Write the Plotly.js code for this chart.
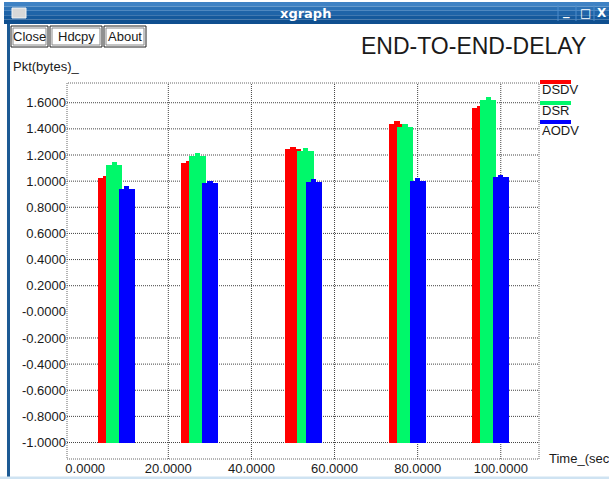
<!DOCTYPE html>
<html>
<head>
<meta charset="utf-8">
<script src="https://cdn.plot.ly/plotly-3.0.1.min.js"></script>
<style>html,body{margin:0;padding:0;background:#fff;}#chart{width:609px;height:479px;}</style>
</head>
<body>
<div id="chart"></div>
<script>
// ---- data ----
const seriesNames = ["DSDV", "DSR", "AODV"];
const dsdvX = [5, 25, 50, 75, 95];
const dsdvY = [1.022, 1.136, 1.243, 1.437, 1.557];
const dsrX = [7, 27, 53, 77, 97];
const dsrY = [1.123, 1.195, 1.233, 1.416, 1.621];
const aodvX = [10, 30, 55, 80, 100];
const aodvY = [0.940, 0.983, 0.996, 1.003, 1.029];
const xTickVals = [0, 20, 40, 60, 80, 100];
const xTickText = ["0.0000", "20.0000", "40.0000", "60.0000", "80.0000", "100.0000"];
const yTickVals = [1.6, 1.4, 1.2, 1.0, 0.8, 0.6, 0.4, 0.2, 0.0, -0.2, -0.4, -0.6, -0.8, -1.0];
const yTickText = ["1.6000", "1.4000", "1.2000", "1.0000", "0.8000", "0.6000", "0.4000", "0.2000",
  "-0.0000", "-0.2000", "-0.4000", "-0.6000", "-0.8000", "-1.0000"];
const chartTitle = "END-TO-END-DELAY";
const yLabel = "Pkt(bytes)_";
const xLabel = "Time_(sec";   // cut off by the window edge in the reference

// ---- styling ----
const BASE = -1.0;
const colors = ["#ff0000", "#00f86a", "#0000ff"];
const FONT = "Liberation Sans, Arial, sans-serif";
const L = 67, R = 539, T = 83, B = 459, W = 609, H = 479;
const PX = x => (x - L) / (R - L);
const PY = y => (B - y) / (B - T);

const sets = [[dsdvX, dsdvY], [dsrX, dsrY], [aodvX, aodvY]];
const traces = [];
sets.forEach(([xs, ys], i) => {
  traces.push({
    type: "bar", name: seriesNames[i], x: xs, y: ys.map(v => v - BASE), base: xs.map(() => BASE),
    width: 3.9, marker: {color: colors[i], line: {width: 0}}, showlegend: false, hoverinfo: "skip"
  });
  // small point marker sitting on top of each bar (xgraph point)
  traces.push({
    type: "bar", name: seriesNames[i] + " pt", x: xs, y: ys.map(() => 0.024), base: ys.map(v => v - 0.004),
    width: 1.3, marker: {color: colors[i], line: {width: 0}}, showlegend: false, hoverinfo: "skip"
  });
});

const shapes = [];
const grid = {color: "#444", width: 1, dash: "1px,1px"};
yTickVals.forEach(v => { if (v !== 0) shapes.push({type: "line", xref: "paper", yref: "y", x0: 0, x1: 1, y0: v, y1: v, line: grid, layer: "below"}); });
xTickVals.forEach(v => { if (v !== 0) shapes.push({type: "line", xref: "x", yref: "paper", x0: v, x1: v, y0: 0, y1: 1, line: grid, layer: "below"}); });
// plot frame
shapes.push({type: "rect", xref: "paper", yref: "paper", x0: 0, x1: 1, y0: 0, y1: 1, line: {color: "#666", width: 1, dash: "1px,1px"}, layer: "below"});

// legend bars
const legY = [82, 103, 122];
legY.forEach((y, i) => shapes.push({type: "line", xref: "paper", yref: "paper", x0: PX(540), x1: PX(571), y0: PY(y), y1: PY(y), line: {color: colors[i], width: 4}}));

// window chrome: title bar
const bands = ["#3f82c4", "#2d72b6", "#1f64a8", "#15599c", "#0f4f8f"];
bands.forEach((c, i) => {
  const y0 = 2 + i * 4.4, y1 = 2 + (i + 1) * 4.4;
  shapes.push({type: "rect", xref: "paper", yref: "paper", x0: PX(4), x1: PX(612), y0: PY(y1), y1: PY(y0), fillcolor: c, line: {width: 0}});
});
shapes.push({type: "rect", xref: "paper", yref: "paper", x0: PX(12), x1: PX(26), y0: PY(18), y1: PY(8), fillcolor: "#d8d8d8", line: {color: "#f4f4f4", width: 1}});
[558, 576, 594].forEach(x => shapes.push({type: "line", xref: "paper", yref: "paper", x0: PX(x), x1: PX(x), y0: PY(21), y1: PY(5), line: {color: "#4d8ccc", width: 1}}));
// left window border
shapes.push({type: "rect", xref: "paper", yref: "paper", x0: PX(7), x1: PX(10), y0: PY(479), y1: PY(24), fillcolor: "#1c5a94", line: {width: 0}});
// bottom edge
shapes.push({type: "rect", xref: "paper", yref: "paper", x0: PX(0), x1: PX(609), y0: PY(479), y1: PY(476.5), fillcolor: "#cfe3f2", line: {width: 0}});
// buttons
const buttons = [["Close", 11, 48], ["Hdcpy", 50, 102], ["About", 104, 146]];
buttons.forEach(([t, x0, x1]) => {
  shapes.push({type: "rect", xref: "paper", yref: "paper", x0: PX(x0), x1: PX(x1), y0: PY(47), y1: PY(26), fillcolor: "#fff", line: {color: "#222", width: 1}});
  shapes.push({type: "rect", xref: "paper", yref: "paper", x0: PX(x0 + 2), x1: PX(x1 - 2), y0: PY(45), y1: PY(28), fillcolor: "rgba(0,0,0,0)", line: {color: "#888", width: 1}});
});

const ann = [];
const txt = (text, x, y, size, opts) => ann.push(Object.assign({
  text: text, xref: "paper", yref: "paper", x: PX(x), y: PY(y), showarrow: false,
  xanchor: "left", yanchor: "middle", font: {family: FONT, size: size, color: "#1a1a1a"}
}, opts || {}));
txt("xgraph", 305, 13, 13, {xanchor: "center", font: {family: "DejaVu Sans, sans-serif", size: 13, color: "#fff", weight: "bold"}});
txt("_", 566, 11, 13, {xanchor: "center", font: {family: "DejaVu Sans, sans-serif", size: 13, color: "#fff", weight: "bold"}});
txt("□", 585, 13, 12, {xanchor: "center", font: {family: "DejaVu Sans, sans-serif", size: 12, color: "#fff", weight: "bold"}});
txt("X", 602, 13, 12, {xanchor: "center", font: {family: "DejaVu Sans, sans-serif", size: 12, color: "#fff", weight: "bold"}});
buttons.forEach(([t, x0, x1]) => txt(t, (x0 + x1) / 2, 36.5, 13, {xanchor: "center"}));
txt(chartTitle, 473, 46, 23, {xanchor: "center"});
txt(yLabel, 11, 66, 13);
txt(xLabel, 547, 458, 13);
seriesNames.forEach((n, i) => txt(n, 540, [90, 110, 130][i], 13));

const layout = {
  width: W, height: H,
  margin: {l: L, r: W - R, t: T, b: H - B, pad: 0},
  paper_bgcolor: "#fff", plot_bgcolor: "#fff",
  barmode: "overlay", bargap: 0,
  showlegend: false,
  font: {family: FONT, size: 13, color: "#1a1a1a"},
  xaxis: {range: [-4.38, 109.2], tickmode: "array", tickvals: xTickVals, ticktext: xTickText,
    showgrid: false, zeroline: false, showline: false, ticks: "", tickfont: {family: FONT, size: 13, color: "#1a1a1a"}},
  yaxis: {range: [-1.126, 1.751], tickmode: "array", tickvals: yTickVals, ticktext: yTickText,
    showgrid: false, zeroline: false, showline: false, ticks: "", tickfont: {family: FONT, size: 13, color: "#1a1a1a"}},
  shapes: shapes,
  annotations: ann
};

Plotly.newPlot("chart", traces, layout, {staticPlot: true, displayModeBar: false});
</script>
</body>
</html>
